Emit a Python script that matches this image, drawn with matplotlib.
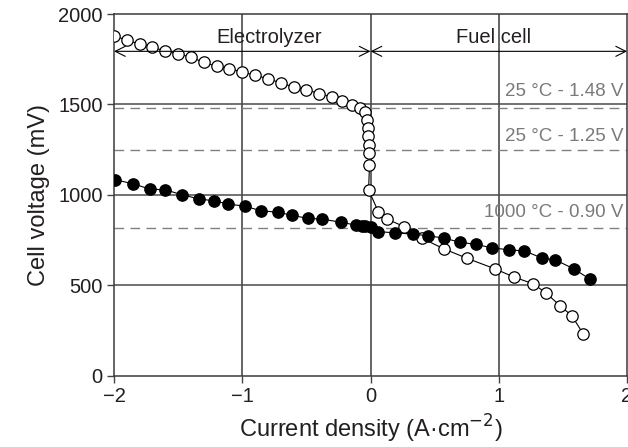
import matplotlib
matplotlib.use("Agg")
import matplotlib.pyplot as plt

plt.rcParams['font.family'] = ['Liberation Sans', 'DejaVu Sans']

# Polarisation curve at 25 °C (open circles), A/cm² vs mV
j_25 = [-2.0, -1.9, -1.8, -1.7, -1.6, -1.5, -1.4, -1.3, -1.2, -1.1,
        -1.0, -0.9, -0.8, -0.7, -0.6, -0.5, -0.4, -0.3, -0.22, -0.145,
        -0.085, -0.045, -0.03, -0.018, -0.016, -0.01, -0.008, -0.008, -0.015,
        0.06, 0.13, 0.26, 0.40, 0.57, 0.75, 0.97, 1.12, 1.27, 1.37,
        1.48, 1.57, 1.66]
v_25 = [1881, 1855, 1835, 1818, 1794, 1780, 1761, 1733, 1711, 1697,
        1680, 1661, 1643, 1619, 1597, 1582, 1560, 1541, 1522, 1499,
        1481, 1457, 1416, 1370, 1323, 1277, 1231, 1167, 1028,
        908, 866, 825, 761, 702, 650, 591, 545, 508, 456,
        386, 331, 229]

# Polarisation curve at 1000 °C (filled circles)
j_1000 = [-1.99, -1.85, -1.72, -1.60, -1.47, -1.34, -1.22, -1.11, -0.98, -0.85,
          -0.72, -0.61, -0.49, -0.38, -0.23, -0.11, -0.07, -0.04, 0.0, 0.06,
          0.19, 0.33, 0.45, 0.57, 0.70, 0.82, 0.95, 1.08, 1.20, 1.34,
          1.44, 1.59, 1.71]
v_1000 = [1084, 1061, 1032, 1028, 1001, 978, 967, 950, 937, 912,
          904, 887, 870, 866, 849, 832, 830, 826, 822, 797,
          790, 783, 774, 761, 738, 726, 707, 696, 690, 650,
          641, 589, 534]

# Reference voltages (dashed) and their labels
ref_levels = [1480, 1250, 815]
ref_labels = ["25 °C - 1.48 V", "25 °C - 1.25 V", "1000 °C - 0.90 V"]
ref_label_y = [1571, 1322, 900]

x_ticks = [-2, -1, 0, 1, 2]
x_ticklabels = ["\u22122", "\u22121", "0", "1", "2"]
y_ticks = [0, 500, 1000, 1500, 2000]

txt = "#231f20"
grey = "#808080"

fig = plt.figure(figsize=(6.28, 4.47), dpi=100)
ax = fig.add_axes([0.1815, 0.1595, 0.8170, 0.8090])

ax.set_xlim(-2, 2)
ax.set_ylim(0, 2000)

# grid
for xv in [-1, 0, 1]:
    ax.axvline(xv, color="#3a3a3a", lw=1.1, zorder=1)
for yv in [500, 1000, 1500]:
    ax.axhline(yv, color="#4a4a4a", lw=1.1, zorder=1)

for lvl in ref_levels:
    ax.axhline(lvl, color=grey, lw=1.0, ls=(0, (7, 4.5)), zorder=1)

ax.plot(j_25, v_25, color="black", lw=0.8, marker="o", ms=8.2,
        mfc="white", mec="black", mew=0.9, zorder=3)
ax.plot(j_1000, v_1000, color="black", lw=0.8, marker="o", ms=8.2,
        mfc="black", mec="black", mew=0.9, zorder=4)

# operating-mode arrows
arrow_y = 1794
ax.annotate("", xy=(-2, arrow_y), xytext=(0, arrow_y),
            arrowprops=dict(arrowstyle="<->", color="black", lw=0.8,
                            shrinkA=0, shrinkB=0, mutation_scale=18))
ax.annotate("", xy=(0, arrow_y), xytext=(2, arrow_y),
            arrowprops=dict(arrowstyle="<->", color="black", lw=0.8,
                            shrinkA=0, shrinkB=0, mutation_scale=18))
ax.text(-0.79, 1870, "Electrolyzer", ha="center", va="center",
        fontsize=14.5, color=txt)
ax.text(0.96, 1870, "Fuel cell", ha="center", va="center",
        fontsize=14.5, color=txt)

for lab, ly in zip(ref_labels, ref_label_y):
    ax.text(1.975, ly, lab, ha="right", va="center", fontsize=13.5,
            color="#7a7a7a")

ax.set_xticks(x_ticks)
ax.set_xticklabels(x_ticklabels)
ax.set_yticks(y_ticks)
ax.tick_params(axis="both", direction="out", length=5, width=1.0,
               color="#444444", labelsize=14.5, labelcolor=txt, pad=3)

for s in ax.spines.values():
    s.set_color("#3a3a3a")
    s.set_linewidth(1.1)

ax.set_xlabel("Current density (A\u00b7cm$^{\u22122}$)", fontsize=17,
              color=txt, labelpad=5)
ax.set_ylabel("Cell voltage (mV)", fontsize=17, color=txt, labelpad=6)

fig.savefig("out.png", dpi=100)
